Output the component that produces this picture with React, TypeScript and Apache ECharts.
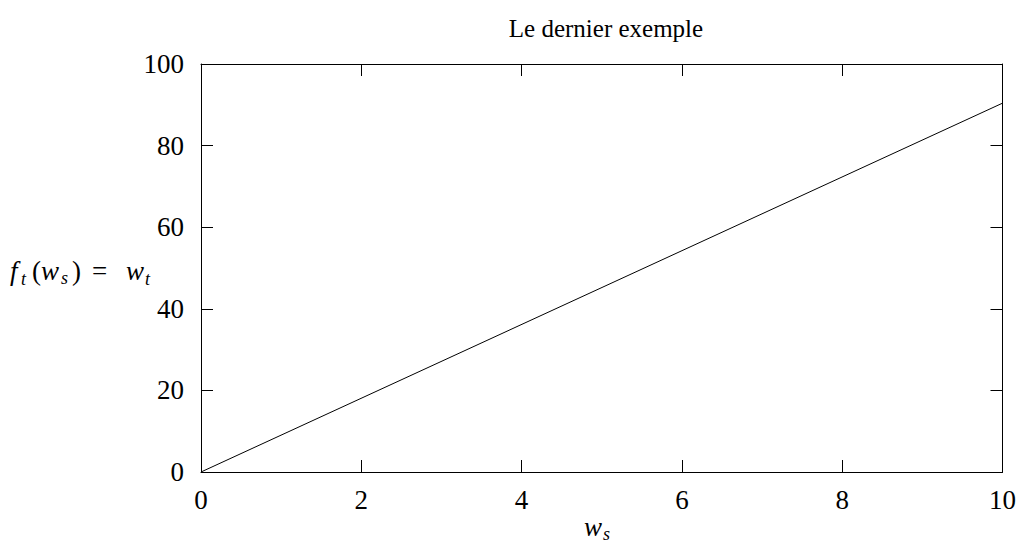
import React, { useEffect, useRef } from "react";
import * as echarts from "echarts";

// Curve samples (w_s, w_t)
const wsValues = [0, 10];
const wtValues = [0, 90.4];

const xTicks = [0, 2, 4, 6, 8, 10];
const yTicks = [0, 20, 40, 60, 80, 100];

const titleText = "Le dernier exemple";

const FONT = "'Liberation Serif', 'DejaVu Serif', serif";

export default function App() {
  const ref = useRef<HTMLDivElement | null>(null);

  useEffect(() => {
    if (!ref.current) return;
    const chart = echarts.init(ref.current, null, { renderer: "svg" });

    const tickLen = 12;
    const labelStyle = { fontFamily: FONT, fontSize: 27, color: "#000" };
    const mainAxis = {
      axisLine: { show: true, onZero: false, lineStyle: { color: "#000", width: 1 } },
      axisTick: { show: true, inside: true, length: tickLen, lineStyle: { color: "#000", width: 1 } },
      splitLine: { show: false },
    };

    // Text pieces positioned by their baseline (converted to a vertical middle)
    const piece = (t: string, x: number, baseline: number, size: number, italic: boolean) => ({
      type: "text",
      x,
      y: baseline - size * 0.3,
      style: {
        text: t,
        fontFamily: FONT,
        fontStyle: italic ? "italic" : "normal",
        fontSize: size,
        fill: "#000",
        verticalAlign: "middle",
        align: "left",
      },
    });
    const main = (t: string, x: number, b: number, italic = true) => piece(t, x, b, 27, italic);
    const sub = (t: string, x: number, b: number) => piece(t, x, b, 18, true);

    const yb = 279;
    const xb = 535;

    chart.setOption({
      animation: false,
      backgroundColor: "#fff",
      title: {
        text: titleText,
        left: 601,
        top: 11,
        textAlign: "center",
        textStyle: { fontFamily: FONT, fontSize: 25, fontWeight: "normal", color: "#000" },
      },
      grid: { left: 201, right: 16, top: 64, bottom: 72, containLabel: false },
      xAxis: [
        {
          type: "value",
          min: xTicks[0],
          max: xTicks[xTicks.length - 1],
          interval: 2,
          position: "bottom",
          ...mainAxis,
          axisLabel: { ...labelStyle, margin: 14 },
        },
        {
          type: "value",
          min: xTicks[0],
          max: xTicks[xTicks.length - 1],
          interval: 2,
          position: "top",
          ...mainAxis,
          axisLabel: { show: false },
        },
      ],
      yAxis: [
        {
          type: "value",
          min: yTicks[0],
          max: yTicks[yTicks.length - 1],
          interval: 20,
          position: "left",
          ...mainAxis,
          axisLabel: { ...labelStyle, margin: 17 },
        },
        {
          type: "value",
          min: yTicks[0],
          max: yTicks[yTicks.length - 1],
          interval: 20,
          position: "right",
          ...mainAxis,
          axisLabel: { show: false },
        },
      ],
      series: [
        {
          type: "line",
          data: wsValues.map((x, i) => [x, wtValues[i]]),
          symbol: "none",
          lineStyle: { color: "#000", width: 1 },
          silent: true,
        },
      ],
      graphic: [
        // f_t(w_s) = w_t
        main("f", 10, yb),
        sub("t", 21, yb + 5),
        main("(", 32, yb, false),
        main("w", 41, yb),
        sub("s", 61, yb + 4),
        main(")", 72, yb, false),
        main("=", 92, yb, false),
        main("w", 126, yb),
        sub("t", 145, yb + 5),
        // w_s
        main("w", 584, xb),
        sub("s", 603, xb + 4),
      ],
    });

    return () => chart.dispose();
  }, []);

  return (
    <div
      ref={ref}
      style={{ position: "fixed", left: 0, top: 0, width: 1019, height: 544, background: "#fff" }}
    />
  );
}
